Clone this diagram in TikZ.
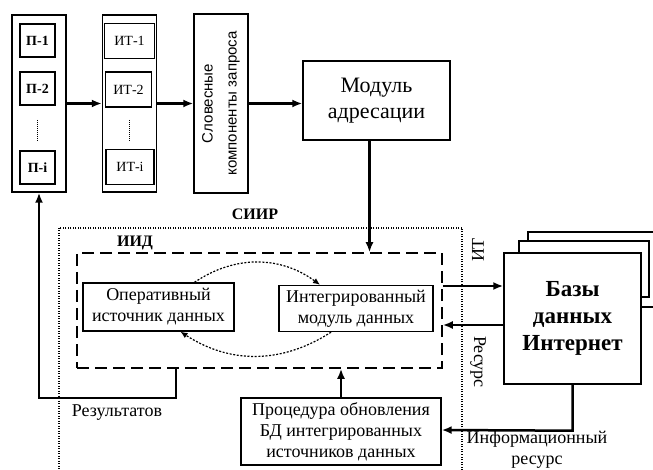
\documentclass[tikz,border=0pt]{standalone}
\usepackage{fontspec}
\setmainfont{Liberation Serif}
\setsansfont{Liberation Sans}
\usetikzlibrary{arrows.meta}

\begin{document}
\begin{tikzpicture}[x=1pt, y=-1pt,
box/.style={rectangle, draw=black, line width=1.4pt, inner sep=0pt, fill=white},
cell/.style={rectangle, draw=black, line width=1.7pt, minimum width=35pt, minimum height=33pt, font=\bfseries\fontsize{14}{16}\selectfont},
itcell/.style={rectangle, draw=black, line width=1.7pt, minimum height=35pt, font=\fontsize{14}{16}\selectfont},
body/.style={align=center, font=\fontsize{18}{21}\selectfont},
link/.style={-{Latex[length=10pt,width=8pt]}, line width=2.5pt},
cyc/.style={-{Latex[length=7pt,width=6pt]}, line width=1.2pt, dash pattern=on 2pt off 1.6pt},
title/.style={font=\bfseries\fontsize{16}{18}\selectfont},
]
\useasboundingbox (0,0) rectangle (653,470);
\clip (0,0) rectangle (653,470);

% query parts
\node[box, minimum width=54pt, minimum height=177pt] (pbox) at (39,103.5) {};
\node[cell] (p1) at (37.5,40.5) {П-1};
\node[cell] (p2) at (37.5,88.5) {П-2};
\node[cell] (pi) at (37.5,167.5) {П-i};
\draw[line width=1pt, dash pattern=on 1pt off 1pt] (37.5,120) -- (37.5,142);

\node[box, minimum width=54pt, minimum height=177pt] (itbox) at (129.5,103.5) {};
\node[itcell, minimum width=50pt] (it1) at (129.5,41) {ИТ-1};
\node[itcell, minimum width=46pt] (it2) at (128.5,89.5) {ИТ-2};
\node[itcell, minimum width=48pt] (iti) at (130,167) {ИТ-i};
\draw[line width=1pt, dash pattern=on 1pt off 1pt] (129.5,120) -- (129.5,142);

\node[box, minimum width=54pt, minimum height=179pt] (slov) at (221,103.5) {};
\node[rotate=90, align=center, font=\sffamily\fontsize{15}{24}\selectfont] (slovtxt) at (slov.center) {Словесные\\компоненты запроса};

\node[box, minimum width=147pt, minimum height=79pt, align=center, font=\fontsize{22}{26}\selectfont] (modul) at (376.5,100.5) {Модуль\\адресации};

\draw[link] (pbox) -- (itbox);
\draw[link] (itbox) -- (slov);
\draw[link] (slov) -- (slov -| modul.west);

% system
\draw[line width=1.1pt, dash pattern=on 1pt off 1.5pt] (59,228) rectangle (462,480);
\node[title] (siirlbl) at (255,214) {СИИР};
\node[box, fill=none, line width=1.5pt, dash pattern=on 12pt off 6pt, minimum width=365pt, minimum height=115pt] (iid) at (259.5,310.5) {};
\node[title] (iidlbl) at (135,243) {ИИД};

\node[box, body, minimum width=151pt, minimum height=48pt] (op) at (158.5,307) {Оперативный\\источник данных};
\node[box, body, minimum width=154pt, minimum height=46pt] (intm) at (356,308.5) {Интегрированный\\модуль данных};
\draw[cyc] ([xshift=36pt]op.north) to[bend left=35] ([xshift=-36pt]intm.north);
\draw[cyc] ([xshift=-25pt]intm.south) to[bend left=33] ([xshift=22pt]op.south);

\draw[link] ([xshift=-7pt]modul.south) -- ([xshift=-7pt]modul.south |- iid.north);
\draw[link] ([xshift=-83.5pt]iid.south) -- ++(0,29) -| (pbox.south);
\node[body] (reslbl) at (117,413) {Результатов};

\node[box, body, minimum width=200pt, minimum height=67pt] (proc) at (341,431.5) {Процедура обновления\\БД интегрированных\\источников данных};
\draw[link] (proc.north) -- (proc.north |- iid.south);

% internet
\draw[box] (528,232) rectangle (655,307);
\draw[box] (519,241) rectangle (649,297);
\node[box, minimum width=137pt, minimum height=131pt, align=center, font=\bfseries\fontsize{23}{27}\selectfont] (bazy) at (572.5,318.5) {Базы\\данных\\Интернет};

\draw[link] (iid.east |- 0,286) -- (bazy.west |- 0,286);
\draw[link] (bazy.west |- 0,325) -- (iid.east |- 0,325);
\node[rotate=90, body] (itlbl) at (478,250) {ИТ};
\node[rotate=-90, body] (reslbl2) at (478,362) {Ресурс};
\draw[link] (bazy.south) -- ++(0,46) -- (proc.east |- 0,430);
\node[body] (inflbl) at (537,450) {Информационный\\ресурс};
\end{tikzpicture}
\end{document}
